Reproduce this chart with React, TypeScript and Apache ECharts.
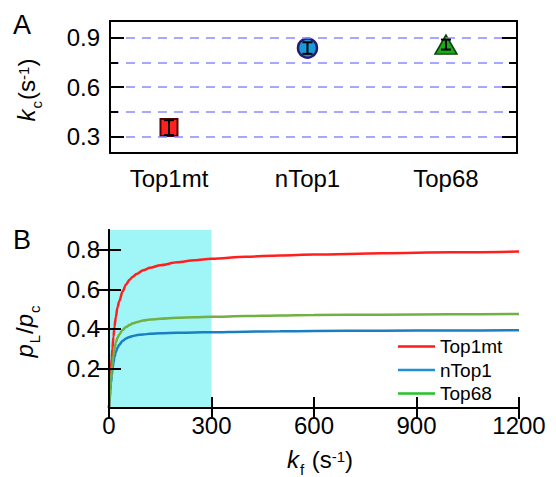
import React, { useEffect, useRef } from "react";
import * as echarts from "echarts";

// ---- Panel A data ----
const categories = ["Top1mt", "nTop1", "Top68"];
const kcValues = [0.354, 0.836, 0.857];
const kcErrors = [0.045, 0.035, 0.03];
const kcMajorTicks = [0.3, 0.6, 0.9];
const kcMinorTicks = [0.45, 0.75];
const kcGridLines = [0.3, 0.45, 0.6, 0.75, 0.9];

// ---- Panel B data ----
const kf = [0, 2, 4, 6, 8, 10, 13, 16, 20, 25, 30, 40, 50, 60, 70, 80, 100, 120, 150, 200, 250, 300, 400, 500, 600, 800, 1000, 1200];
const ratioTop1mt = [0, 0.07, 0.14, 0.2, 0.25, 0.3, 0.36, 0.41, 0.46, 0.51, 0.54, 0.59, 0.625, 0.648, 0.664, 0.677, 0.696, 0.709, 0.722, 0.737, 0.747, 0.755, 0.765, 0.771, 0.776, 0.782, 0.787, 0.791];
const ratioNTop1 = [0, 0.045, 0.09, 0.13, 0.165, 0.195, 0.23, 0.258, 0.283, 0.305, 0.32, 0.34, 0.352, 0.359, 0.364, 0.368, 0.372, 0.375, 0.378, 0.38, 0.382, 0.383, 0.386, 0.388, 0.389, 0.391, 0.392, 0.393];
const ratioTop68 = [0, 0.05, 0.1, 0.145, 0.185, 0.22, 0.265, 0.3, 0.33, 0.355, 0.372, 0.395, 0.41, 0.42, 0.428, 0.434, 0.442, 0.447, 0.451, 0.456, 0.459, 0.461, 0.465, 0.468, 0.47, 0.472, 0.474, 0.475];
const ratioTicks = [0.2, 0.4, 0.6, 0.8];
const shadedRange = [0, 300];

const FONT = "'Liberation Sans', Arial, Helvetica, sans-serif";
const markerStyles = [
  { symbol: "rect", size: 17, color: "#ff2020", border: "#4a0606", bw: 2 },
  { symbol: "circle", size: 19, color: "#1a9ad8", border: "#2a1a70", bw: 2.5 },
  { symbol: "triangle", size: [22, 19], color: "#1aaa1a", border: "#0a400a", bw: 1.5 },
];
const lineColors = ["#ff1f1f", "#1a7ec2", "#72b043"];
const legendColors = ["#ff1a1a", "#1f8fd6", "#22c422"];

const richName = {
  i: { fontFamily: FONT, fontStyle: "italic", fontSize: 24, lineHeight: 27, verticalAlign: "top", color: "#000" },
  n: { fontFamily: FONT, fontSize: 24, lineHeight: 27, verticalAlign: "top", color: "#000" },
  sub: { fontFamily: FONT, fontSize: 15, lineHeight: 15, padding: [14, 1, 0, 1], verticalAlign: "top", color: "#000" },
  sup: { fontFamily: FONT, fontSize: 15, lineHeight: 15, padding: [1, 0, 0, 0], verticalAlign: "top", color: "#000" },
};

export default function App() {
  const ref = useRef<HTMLDivElement>(null);
  useEffect(() => {
    document.body.style.margin = "0";
    const chart = echarts.init(ref.current!, null, { renderer: "svg" });

    const axisLineStyle = { color: "#000", width: 2 };
    const tickStyle = { color: "#000", width: 2 };
    const gridA = 0;
    const gridB = 1;

    const option: any = {
      animation: false,
      textStyle: { fontFamily: FONT },
      grid: [
        { left: 110, top: 21, width: 407, height: 132 },
        { left: 109, top: 230, width: 410, height: 178 },
      ],
      xAxis: [
        {
          gridIndex: gridA, type: "value", min: 0.574, max: 3.513, position: "bottom", z: 5,
          axisLine: { show: true, lineStyle: axisLineStyle }, axisTick: { show: false },
          splitLine: { show: false },
          axisLabel: {
            customValues: [1, 2, 3],
            formatter: (v: number) => categories[Math.round(v) - 1] ?? "",
            fontSize: 24, color: "#000", margin: 13, fontFamily: FONT,
          },
        },
        {
          gridIndex: gridA, type: "value", min: 0.574, max: 3.513, position: "top", z: 5,
          axisLine: { show: true, lineStyle: axisLineStyle }, axisTick: { show: false },
          axisLabel: { show: false }, splitLine: { show: false },
        },
        {
          gridIndex: gridB, type: "value", min: 0, max: 1200, interval: 300, position: "bottom", z: 5,
          axisLine: { show: true, lineStyle: axisLineStyle },
          axisTick: { show: true, inside: true, length: 11, lineStyle: tickStyle },
          axisLabel: { fontSize: 24, color: "#000", margin: 5, fontFamily: FONT, formatter: (v: number) => String(v) },
          splitLine: { show: false },
        },
        {
          gridIndex: gridB, type: "value", min: 0, max: 1200, interval: 300, position: "top", z: 5,
          axisLine: { show: true, lineStyle: axisLineStyle },
          axisTick: { show: true, inside: true, length: 11, lineStyle: tickStyle },
          axisLabel: { show: false }, splitLine: { show: false },
        },
      ],
      yAxis: [
        {
          gridIndex: gridA, type: "value", min: 0.2, max: 1.0, position: "left", z: 5,
          axisLine: { show: true, lineStyle: axisLineStyle },
          axisTick: { show: true, inside: true, length: 14, customValues: kcMajorTicks, lineStyle: tickStyle },
          axisLabel: {
            customValues: kcMajorTicks, formatter: (v: number) => v.toFixed(1),
            fontSize: 24, color: "#000", margin: 10, fontFamily: FONT,
          },
          splitLine: { show: false },
        },
        {
          gridIndex: gridA, type: "value", min: 0.2, max: 1.0, position: "left", z: 5,
          axisLine: { show: false },
          axisTick: { show: true, inside: true, length: 8, customValues: kcMinorTicks, lineStyle: tickStyle },
          axisLabel: { show: false }, splitLine: { show: false },
        },
        {
          gridIndex: gridA, type: "value", min: 0.2, max: 1.0, position: "right", z: 5,
          axisLine: { show: true, lineStyle: axisLineStyle },
          axisTick: { show: true, inside: true, length: 15, customValues: kcMajorTicks, lineStyle: tickStyle },
          axisLabel: { show: false }, splitLine: { show: false },
        },
        {
          gridIndex: gridA, type: "value", min: 0.2, max: 1.0, position: "right", z: 5,
          axisLine: { show: false },
          axisTick: { show: true, inside: true, length: 8, customValues: kcMinorTicks, lineStyle: tickStyle },
          axisLabel: { show: false }, splitLine: { show: false },
        },
        {
          gridIndex: gridB, type: "value", min: 0, max: 0.9, position: "left", z: 5,
          axisLine: { show: true, lineStyle: axisLineStyle },
          axisTick: { show: true, inside: true, length: 12, customValues: ratioTicks, lineStyle: tickStyle },
          axisLabel: {
            customValues: ratioTicks, formatter: (v: number) => v.toFixed(1),
            fontSize: 24, color: "#000", margin: 9, fontFamily: FONT,
          },
          splitLine: { show: false },
        },
        {
          gridIndex: gridB, type: "value", min: 0, max: 0.9, position: "right", z: 5,
          axisLine: { show: true, lineStyle: axisLineStyle },
          axisTick: { show: true, inside: true, length: 12, customValues: ratioTicks, lineStyle: tickStyle },
          axisLabel: { show: false }, splitLine: { show: false },
        },
      ],
      legend: {
        orient: "vertical", left: 393, top: 332, itemWidth: 37, itemHeight: 18, itemGap: 4.5,
        symbolKeepAspect: true,
        textStyle: { fontSize: 19, color: "#000", fontFamily: FONT },
        data: categories.map((c, i) => ({
          name: c,
          icon: "path://M0 0H37V2.5H0Z",
          itemStyle: { color: legendColors[i] },
        })),
        selectedMode: false,
      },
      graphic: [
        { type: "text", left: 13, top: 11, style: { text: "A", fontSize: 27, fontFamily: FONT, fill: "#000" } },
        { type: "text", left: 13, top: 226, style: { text: "B", fontSize: 27, fontFamily: FONT, fill: "#000" } },
        {
          type: "text", x: 28, y: 90, rotation: Math.PI / 2,
          style: { text: "{i|k}{sub|c}{n|(s}{sup|-1}{n|)}", rich: richName, align: "center", verticalAlign: "middle" },
        },
        {
          type: "text", x: 26, y: 331, rotation: Math.PI / 2,
          style: { text: "{i|p}{sub|L}{n|/}{i|p}{sub|c}", rich: richName, align: "center", verticalAlign: "middle" },
        },
        {
          type: "text", x: 320, y: 461,
          style: { text: "{i|k}{sub|f}{n| (s}{sup|-1}{n|)}", rich: richName, align: "center", verticalAlign: "middle" },
        },
      ],
      series: [
        // dashed grid lines for panel A
        {
          type: "scatter", xAxisIndex: 0, yAxisIndex: 0, data: [], z: 1, silent: true,
          markLine: {
            silent: true, symbol: "none", label: { show: false },
            lineStyle: { color: "#8a8aff", width: 1.5, type: [9, 7] },
            data: kcGridLines.map((v) => ({ yAxis: v })),
          },
        },
        ...categories.map((c, i) => ({
          type: "scatter", xAxisIndex: 0, yAxisIndex: 0, z: 3,
          symbol: markerStyles[i].symbol, symbolSize: markerStyles[i].size,
          itemStyle: { color: markerStyles[i].color, borderColor: markerStyles[i].border, borderWidth: markerStyles[i].bw, opacity: 1 },
          data: [[i + 1, kcValues[i]]],
        })),
        {
          type: "custom", xAxisIndex: 0, yAxisIndex: 0, z: 6,
          data: kcValues.map((v, i) => [i + 1, v, kcErrors[i]]),
          encode: { x: 0, y: 1 },
          renderItem: (params: any, api: any) => {
            const x = api.value(0), y = api.value(1), e = api.value(2);
            const top = api.coord([x, y + e]);
            const bot = api.coord([x, y - e]);
            const hw = 5;
            const st = { stroke: "#000", lineWidth: 2 };
            return {
              type: "group",
              children: [
                { type: "line", shape: { x1: top[0], y1: top[1], x2: bot[0], y2: bot[1] }, style: st },
                { type: "line", shape: { x1: top[0] - hw, y1: top[1], x2: top[0] + hw, y2: top[1] }, style: st },
                { type: "line", shape: { x1: bot[0] - hw, y1: bot[1], x2: bot[0] + hw, y2: bot[1] }, style: st },
              ],
            };
          },
        },
        // shaded region for panel B
        {
          type: "line", xAxisIndex: 2, yAxisIndex: 4, data: [], z: 1, silent: true,
          markArea: {
            silent: true, itemStyle: { color: "#a0f5f7", opacity: 1 },
            data: [[{ xAxis: shadedRange[0] }, { xAxis: shadedRange[1] }]],
          },
        },
        ...[ratioTop1mt, ratioNTop1, ratioTop68].map((arr, i) => ({
          name: categories[i], type: "line", xAxisIndex: 2, yAxisIndex: 4, z: 3,
          showSymbol: false, symbol: "none", smooth: 0.3, smoothMonotone: "x",
          lineStyle: { color: lineColors[i], width: 2.5 },
          itemStyle: { color: lineColors[i] },
          data: kf.map((k, j) => [k, arr[j]]),
        })),
      ],
    };
    chart.setOption(option);
    return () => chart.dispose();
  }, []);
  return <div ref={ref} style={{ width: 556, height: 477 }} />;
}
